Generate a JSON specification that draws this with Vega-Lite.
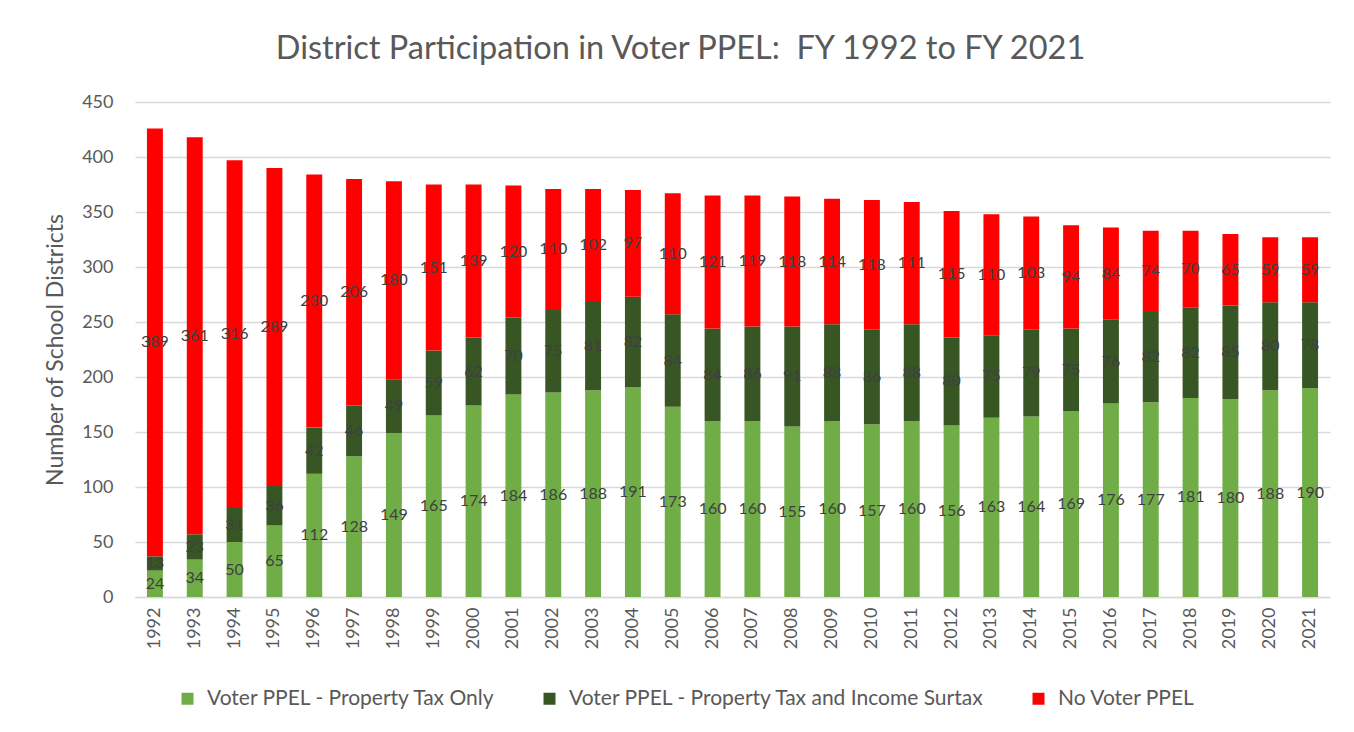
{
  "$schema": "https://vega.github.io/schema/vega-lite/v6.json",
  "width": 1195,
  "height": 495,
  "autosize": {"type": "none"},
  "padding": {"left": 135, "top": 102, "right": 24, "bottom": 135},
  "background": "white",
  "title": {
    "text": "District Participation in Voter PPEL:\u00a0 FY 1992 to FY 2021",
    "font": "Lato",
    "fontSize": 32.5,
    "fontWeight": "normal",
    "color": "#595959",
    "anchor": "middle",
    "dx": -52,
    "offset": 28
  },
  "config": {
    "view": {"stroke": null},
    "font": "Lato"
  },
  "data": {
    "values": [
      {"year": "1992", "only": 24, "surtax": 13, "none": 389},
      {"year": "1993", "only": 34, "surtax": 23, "none": 361},
      {"year": "1994", "only": 50, "surtax": 31, "none": 316},
      {"year": "1995", "only": 65, "surtax": 36, "none": 289},
      {"year": "1996", "only": 112, "surtax": 42, "none": 230},
      {"year": "1997", "only": 128, "surtax": 46, "none": 206},
      {"year": "1998", "only": 149, "surtax": 49, "none": 180},
      {"year": "1999", "only": 165, "surtax": 59, "none": 151},
      {"year": "2000", "only": 174, "surtax": 62, "none": 139},
      {"year": "2001", "only": 184, "surtax": 70, "none": 120},
      {"year": "2002", "only": 186, "surtax": 75, "none": 110},
      {"year": "2003", "only": 188, "surtax": 81, "none": 102},
      {"year": "2004", "only": 191, "surtax": 82, "none": 97},
      {"year": "2005", "only": 173, "surtax": 84, "none": 110},
      {"year": "2006", "only": 160, "surtax": 84, "none": 121},
      {"year": "2007", "only": 160, "surtax": 86, "none": 119},
      {"year": "2008", "only": 155, "surtax": 91, "none": 118},
      {"year": "2009", "only": 160, "surtax": 88, "none": 114},
      {"year": "2010", "only": 157, "surtax": 86, "none": 118},
      {"year": "2011", "only": 160, "surtax": 88, "none": 111},
      {"year": "2012", "only": 156, "surtax": 80, "none": 115},
      {"year": "2013", "only": 163, "surtax": 75, "none": 110},
      {"year": "2014", "only": 164, "surtax": 79, "none": 103},
      {"year": "2015", "only": 169, "surtax": 75, "none": 94},
      {"year": "2016", "only": 176, "surtax": 76, "none": 84},
      {"year": "2017", "only": 177, "surtax": 82, "none": 74},
      {"year": "2018", "only": 181, "surtax": 82, "none": 70},
      {"year": "2019", "only": 180, "surtax": 85, "none": 65},
      {"year": "2020", "only": 188, "surtax": 80, "none": 59},
      {"year": "2021", "only": 190, "surtax": 78, "none": 59}
    ]
  },
  "transform": [
    {"fold": ["only", "surtax", "none"], "as": ["series", "count"]},
    {"calculate": "indexof(['only','surtax','none'], datum.series)", "as": "ord"},
    {"stack": "count", "groupby": ["year"], "sort": [{"field": "ord", "order": "ascending"}], "as": ["y0", "y1"]},
    {"calculate": "(datum.y0 + datum.y1) / 2", "as": "mid"}
  ],
  "encoding": {
    "x": {
      "field": "year",
      "type": "ordinal",
      "scale": {"paddingInner": 0.6, "paddingOuter": 0.3},
      "axis": {
        "title": null,
        "labelAngle": 270,
        "labelFontSize": 18,
        "labelColor": "#595959",
        "labelPadding": 10,
        "ticks": false,
        "domainColor": "#D9D9D9",
        "domainWidth": 1.5,
        "grid": false
      }
    }
  },
  "layer": [
    {
      "mark": {"type": "bar"},
      "encoding": {
        "y": {
          "field": "y0",
          "type": "quantitative",
          "scale": {"domain": [0, 450], "nice": false},
          "axis": {
            "title": "Number of School Districts",
            "titleFontSize": 23,
            "titleFontWeight": "normal",
            "titleColor": "#595959",
            "titlePadding": 14,
            "labelFontSize": 18,
            "labelColor": "#595959",
            "labelPadding": 22,
            "values": [0, 50, 100, 150, 200, 250, 300, 350, 400, 450],
            "ticks": false,
            "domain": false,
            "gridColor": "#D9D9D9",
            "gridWidth": 1.5
          }
        },
        "y2": {"field": "y1"},
        "color": {
          "field": "series",
          "type": "nominal",
          "scale": {
            "domain": ["only", "surtax", "none"],
            "range": ["#70AD47", "#375623", "#FF0000"]
          },
          "legend": {
            "title": null,
            "orient": "none",
            "direction": "horizontal",
            "legendX": 42,
            "legendY": 586,
            "symbolType": "square",
            "symbolSize": 144,
            "symbolStrokeWidth": 0,
            "labelFontSize": 21,
            "labelColor": "#595959",
            "labelOffset": 9,
            "labelLimit": 0,
            "columnPadding": 43,
            "labelExpr": "datum.value == 'only' ? 'Voter PPEL - Property Tax Only' : datum.value == 'surtax' ? 'Voter PPEL - Property Tax and Income Surtax' : 'No Voter PPEL'"
          }
        }
      }
    },
    {
      "mark": {"type": "text", "fontSize": 16, "color": "#404040", "baseline": "middle"},
      "encoding": {
        "y": {"field": "mid", "type": "quantitative"},
        "text": {"field": "count", "type": "quantitative"}
      }
    }
  ]
}
